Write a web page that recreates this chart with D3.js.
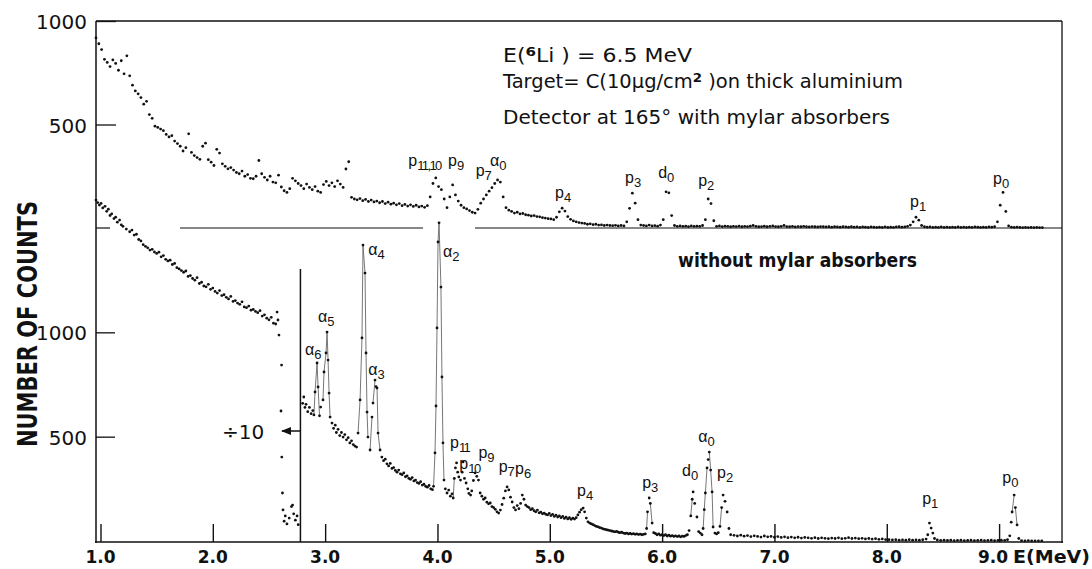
<!DOCTYPE html>
<html><head><meta charset="utf-8">
<script src="https://cdn.jsdelivr.net/npm/d3@7"></script>
<style>body{margin:0;background:#fff}svg{display:block}text{font-family:"DejaVu Sans",sans-serif;fill:#111}</style>
</head><body><svg id="c" width="1092" height="569"></svg>
<script>
// ---------------- DATA ----------------
// Upper spectrum (with mylar absorbers): channel counts on a uniform energy grid
const topStartE = 0.96, topStepE = 0.025;
const topCounts = [
918,890,862,815,800,780,812,795,762,808,
745,832,735,690,662,648,630,598,612,548,
530,492,486,478,470,452,440,446,420,408,
395,372,388,455,365,350,340,332,395,410,
330,318,302,380,362,310,298,286,292,280,
268,262,275,250,258,240,238,250,326,262,
245,232,250,222,218,255,198,180,172,190,
240,228,215,205,190,212,196,185,200,178,
172,210,225,205,218,200,228,212,196,285,
320,148,140,136,142,132,138,128,135,126,
130,122,128,118,125,115,120,112,118,108,
114,106,112,104,110,102,106,100,108,150,
215,242,200,185,140,98,150,208,160,130,
110,98,92,84,76,72,90,120,140,160,
178,195,215,232,222,150,98,86,80,72,
76,68,70,64,62,58,60,55,54,50,
48,45,44,40,52,78,96,82,55,42,
34,30,26,24,22,18,20,16,18,14,
15,12,14,12,11,13,10,12,10,30,
95,168,120,40,14,12,10,14,10,11,
9,14,40,175,170,60,12,8,10,8,
9,7,10,8,9,8,12,40,140,118,
35,8,10,7,9,8,6,8,7,9,
6,8,7,9,12,8,6,7,9,6,
8,10,7,6,8,12,7,6,8,5,
7,6,8,6,5,7,6,5,7,6,
5,6,4,6,5,4,6,5,4,6,
4,5,3,5,4,3,5,4,3,4,
3,5,3,4,3,5,6,4,5,8,
14,30,52,38,12,6,4,5,3,4,
3,5,3,4,3,4,3,5,3,4,
3,4,3,5,4,3,4,3,5,4,
6,30,110,172,80,10,4,3,4,3,
2,3,2,3,2,3,2,2
];

// Lower spectrum (without absorbers), part left of the ÷10 line: [E (MeV), counts]
const bottomLeft = [
[0.960,1634],[0.975,1622],[0.990,1610],[1.005,1618],[1.020,1596],[1.040,1604],[1.055,1580],[1.070,1590],
[1.085,1560],[1.100,1568],[1.120,1545],[1.135,1552],[1.150,1528],[1.170,1538],[1.185,1515],[1.200,1508],
[1.230,1495],[1.260,1482],[1.280,1490],[1.300,1466],[1.320,1470],[1.340,1445],[1.360,1438],[1.380,1420],
[1.400,1412],[1.420,1405],[1.440,1394],[1.460,1398],[1.480,1385],[1.500,1378],[1.520,1384],[1.540,1362],
[1.560,1368],[1.580,1350],[1.600,1342],[1.620,1346],[1.640,1325],[1.660,1330],[1.680,1310],[1.700,1304],
[1.720,1296],[1.740,1288],[1.760,1294],[1.780,1268],[1.800,1272],[1.820,1258],[1.840,1250],[1.860,1262],
[1.880,1234],[1.900,1240],[1.920,1222],[1.940,1218],[1.960,1230],[1.980,1206],[2.000,1212],[2.020,1196],
[2.040,1188],[2.060,1200],[2.080,1176],[2.100,1180],[2.120,1168],[2.140,1160],[2.160,1172],[2.180,1148],
[2.200,1152],[2.220,1140],[2.240,1134],[2.260,1146],[2.280,1122],[2.300,1118],[2.320,1126],[2.340,1106],
[2.360,1110],[2.380,1100],[2.400,1094],[2.420,1104],[2.440,1078],[2.460,1084],[2.480,1068],[2.500,1060],
[2.520,1072],[2.540,1044],[2.560,1040],[2.572,1097],[2.580,1059],[2.589,987],[2.612,843],[2.607,623],
[2.614,402],[2.620,230],[2.625,149],[2.635,95],[2.645,120],[2.660,82],[2.680,110],[2.700,165],
[2.710,172],[2.720,130],[2.735,100],[2.750,120],[2.760,78]
];

// Lower spectrum, part right of the ÷10 line: [E (MeV), counts]
const bottomRight = [
[2.800,660],[2.810,690],[2.820,640],[2.830,655],[2.845,620],[2.860,640],[2.875,610],[2.890,625],[2.900,604],
[2.910,714],[2.928,853],[2.937,738],[2.950,600],[2.960,642],[2.981,676],[2.990,810],[3.008,901],[3.017,1001],
[3.026,867],[3.035,709],[3.044,594],[3.061,565],[3.075,540],[3.090,555],[3.100,520],[3.115,535],[3.130,505],
[3.145,520],[3.160,498],[3.175,510],[3.190,485],[3.205,495],[3.220,470],[3.235,480],[3.250,462],[3.265,455],
[3.280,450],[3.293,517],[3.311,676],[3.328,973],[3.337,1418],[3.355,1284],[3.364,901],[3.373,618],[3.381,498],
[3.400,436],[3.417,594],[3.426,661],[3.444,771],[3.453,740],[3.462,733],[3.471,517],[3.489,436],[3.505,402],
[3.520,385],[3.535,392],[3.550,370],[3.565,360],[3.580,372],[3.595,348],[3.610,352],[3.625,338],[3.640,330],
[3.655,340],[3.670,322],[3.685,318],[3.700,326],[3.715,308],[3.730,312],[3.745,300],[3.760,296],[3.775,304],
[3.790,288],[3.805,292],[3.820,280],[3.835,276],[3.850,284],[3.865,268],[3.880,272],[3.895,262],[3.910,258],
[3.925,266],[3.940,250],[3.955,246],[3.965,262],[3.978,422],[3.987,647],[3.996,1021],[4.005,1433],[4.014,1525],
[4.031,1217],[4.040,786],[4.049,470],[4.058,292],[4.070,250],[4.085,230],[4.100,244],[4.115,215],[4.130,226],
[4.140,206],[4.150,300],[4.160,350],[4.170,374],[4.180,330],[4.190,307],[4.205,292],[4.220,330],[4.228,379],
[4.240,300],[4.255,278],[4.270,250],[4.280,228],[4.295,220],[4.305,240],[4.320,290],[4.335,326],[4.350,310],
[4.365,292],[4.380,230],[4.395,215],[4.410,200],[4.425,206],[4.440,186],[4.455,178],[4.470,182],[4.485,165],
[4.500,160],[4.515,152],[4.530,140],[4.545,134],[4.560,148],[4.575,175],[4.590,205],[4.605,240],[4.620,259],
[4.635,245],[4.650,210],[4.665,187],[4.680,160],[4.695,149],[4.710,170],[4.725,155],[4.740,180],[4.755,220],
[4.770,200],[4.785,172],[4.800,165],[4.815,160],[4.830,150],[4.845,155],[4.860,145],[4.875,140],[4.890,148],
[4.905,135],[4.920,138],[4.935,130],[4.950,134],[4.965,128],[4.980,125],[4.995,132],[5.010,122],[5.025,128],
[5.040,118],[5.055,124],[5.070,115],[5.085,120],[5.100,112],[5.115,118],[5.130,108],[5.145,114],[5.160,106],
[5.175,112],[5.190,104],[5.205,110],[5.220,105],[5.235,112],[5.250,125],[5.265,138],[5.280,150],[5.297,158],
[5.310,140],[5.325,110],[5.340,92],[5.355,86],[5.370,82],[5.385,78],[5.400,74],[5.415,70],[5.430,68],
[5.445,64],[5.460,62],[5.475,58],[5.490,56],[5.505,54],[5.520,52],[5.535,50],[5.550,48],[5.565,46],
[5.580,44],[5.595,46],[5.610,42],[5.625,40],[5.640,42],[5.655,38],[5.670,36],[5.685,38],[5.700,34],
[5.715,36],[5.730,33],[5.745,35],[5.760,32],[5.775,34],[5.790,31],[5.805,33],[5.820,30],[5.835,32],
[5.850,34],[5.862,60],[5.870,140],[5.885,206],[5.895,180],[5.911,86],[5.925,40],[5.940,36],[5.955,30],
[5.970,34],[5.985,28],[6.000,30],[6.015,26],[6.030,30],[6.045,24],[6.060,28],[6.075,23],[6.090,26],
[6.105,22],[6.120,25],[6.135,21],[6.150,24],[6.165,20],[6.180,23],[6.195,22],[6.210,26],[6.225,30],
[6.240,50],[6.255,120],[6.268,200],[6.276,235],[6.290,180],[6.310,115],[6.325,45],[6.340,38],[6.355,30],
[6.365,60],[6.375,150],[6.385,230],[6.400,350],[6.410,390],[6.420,426],[6.432,340],[6.445,235],[6.454,67],
[6.470,38],[6.485,34],[6.500,40],[6.515,70],[6.530,160],[6.543,220],[6.560,190],[6.579,139],[6.595,60],
[6.610,30],[6.640,27],[6.670,24],[6.700,28],[6.730,23],[6.760,26],[6.790,21],[6.820,25],[6.850,22],
[6.880,19],[6.910,24],[6.940,20],[6.970,22],[7.000,18],[7.030,21],[7.060,17],[7.090,20],[7.120,16],
[7.150,19],[7.180,15],[7.210,18],[7.240,14],[7.270,17],[7.300,15],[7.330,13],[7.360,16],[7.390,12],
[7.420,15],[7.450,13],[7.480,11],[7.510,14],[7.540,12],[7.570,15],[7.600,11],[7.630,13],[7.660,16],
[7.690,12],[7.720,14],[7.750,11],[7.780,13],[7.810,10],[7.840,12],[7.870,9],[7.900,11],[7.930,8],
[7.960,10],[7.990,7],[8.020,6],[8.050,5],[8.080,6],[8.110,4],[8.140,5],[8.170,4],[8.200,6],
[8.230,4],[8.260,5],[8.290,4],[8.320,6],[8.350,9],[8.365,30],[8.380,86],[8.395,62],[8.410,38],
[8.425,12],[8.450,5],[8.480,3],[8.510,4],[8.540,3],[8.570,4],[8.600,2],[8.630,3],[8.660,4],
[8.690,2],[8.720,3],[8.750,4],[8.780,2],[8.810,3],[8.840,4],[8.870,2],[8.900,3],[8.930,4],
[8.960,2],[8.990,3],[9.020,4],[9.050,3],[9.075,6],[9.095,25],[9.108,90],[9.116,139],[9.134,220],
[9.145,160],[9.160,77],[9.175,12],[9.200,2],[9.230,1],[9.260,2],[9.290,1],[9.320,1],[9.350,1],[9.380,1]
];

const xTicks = [1,2,3,4,5,6,7,8,9];
const xTickLabels = ["1.0","2.0","3.0","4.0","5.0","6.0","7.0","8.0","9.0"];
const yTicksTop = [500,1000];
const yTicksBottom = [500,1000];

// peak labels: [main, subscript, E, counts] (anchor of the label)
const topLabels = [
["p","11,10",3.740,300],["p","9",4.094,300],["p","7",4.340,251],["α","0",4.468,300],
["p","4",5.047,145],["p","3",5.670,217],["d","0",5.965,242],["p","2",6.321,203],
["p","1",8.207,101],["p","0",8.946,213]
];
const bottomLabels = [
["α","4",3.384,1370],["α","5",2.937,1049],["α","6",2.821,891],["α","3",3.384,795],
["α","2",4.050,1361],["p","11",4.112,446],["p","10",4.195,345],["p","9",4.365,400],
["p","7",4.545,331],["p","6",4.691,321],["p","4",5.243,216],["p","3",5.822,254],
["d","0",6.178,311],["α","0",6.321,474],["p","2",6.489,302],["p","1",8.315,177],["p","0",9.028,278]
];

// ---------------- DRAW ----------------
const svg = d3.select("#c");
const x = d3.scaleLinear().domain([0.96, 9.56]).range([96, 1062]);
const yT = d3.scaleLinear().domain([0, 1000]).range([228, 21]);
const yB = d3.scaleLinear().domain([0, 1500]).range([541, 228]);

const ink = "#111";
// frame
const frame = svg.append("g").attr("stroke", ink).attr("fill","none");
frame.append("line").attr("x1",96).attr("x2",1062).attr("y1",21).attr("y2",21).attr("stroke-width",1.3);
frame.append("line").attr("x1",96).attr("x2",96).attr("y1",21).attr("y2",543).attr("stroke-width",1.5);
frame.append("line").attr("x1",1062).attr("x2",1062).attr("y1",21).attr("y2",543).attr("stroke-width",1.3);
frame.append("line").attr("x1",95).attr("x2",1063).attr("y1",542).attr("y2",542).attr("stroke-width",1.6);
// divider between the two spectra
frame.append("line").attr("x1",180).attr("x2",423).attr("y1",228).attr("y2",228).attr("stroke-width",1.2);
frame.append("line").attr("x1",475).attr("x2",1062).attr("y1",228).attr("y2",228).attr("stroke-width",1.2);
frame.append("line").attr("x1",96).attr("x2",110).attr("y1",228).attr("y2",228).attr("stroke-width",1.2);
// ÷10 boundary
frame.append("line").attr("x1",x(2.78)).attr("x2",x(2.78)).attr("y1",269).attr("y2",542).attr("stroke-width",1.5);

// y axes
const gyT = svg.append("g").attr("transform","translate(96,0)")
  .call(d3.axisRight(yT).tickValues(yTicksTop).tickSize(20).tickFormat(""));
const gyB = svg.append("g").attr("transform","translate(96,0)")
  .call(d3.axisRight(yB).tickValues(yTicksBottom).tickSize(19).tickFormat(""));
[gyT, gyB].forEach(g => { g.select(".domain").remove(); g.selectAll("line").attr("stroke", ink).attr("stroke-width",1.3); });

svg.selectAll(".ylt").data(yTicksTop).join("text")
  .attr("x", 87).attr("y", d => yT(d) + 8).attr("text-anchor","end")
  .attr("font-size", 20).text(d => d);
svg.selectAll(".ylb").data(yTicksBottom).join("text")
  .attr("x", 87).attr("y", d => yB(d) + 8).attr("text-anchor","end")
  .attr("font-size", 20).text(d => d);

// x axis
const gx = svg.append("g").attr("transform","translate(0,542)")
  .call(d3.axisTop(x).tickValues(xTicks).tickSize(18).tickFormat(""));
gx.select(".domain").remove();
gx.selectAll("line").attr("stroke", ink).attr("stroke-width",1.4);
svg.selectAll(".xl").data(xTicks).join("text")
  .attr("x", (d,i) => x(d) + (i===8 ? -6 : 0)).attr("y", 563).attr("text-anchor","middle")
  .attr("font-size", 17).attr("font-weight","bold").text((d,i) => xTickLabels[i]);
svg.append("text").attr("x", 1013).attr("y", 563).attr("font-size",17).attr("font-weight","bold")
  .attr("textLength", 77).attr("lengthAdjust","spacingAndGlyphs").text("E(MeV)");

// y label
svg.append("text").attr("transform","translate(37,324) rotate(-90)").attr("text-anchor","middle")
  .attr("font-size", 27).attr("font-weight","bold").attr("textLength", 246).attr("lengthAdjust","spacingAndGlyphs")
  .text("NUMBER OF COUNTS");

// connecting lines on the steep peaks of lower spectrum
const segs = [];
for (let i = 1; i < bottomRight.length; i++) {
  const a = bottomRight[i-1], b = bottomRight[i];
  if (Math.abs(b[1]-a[1]) >= 80) segs.push([a,b]);
}
svg.append("g").selectAll("line").data(segs).join("line")
  .attr("x1", d => x(d[0][0])).attr("y1", d => yB(d[0][1]))
  .attr("x2", d => x(d[1][0])).attr("y2", d => yB(d[1][1]))
  .attr("stroke", "#666").attr("stroke-width", 0.9);

// dots
const topPts = topCounts.map((c,i) => [topStartE + i*topStepE, c]);
svg.append("g").selectAll("circle").data(topPts).join("circle")
  .attr("cx", d => x(d[0])).attr("cy", d => yT(d[1])).attr("r", 1.4).attr("fill", ink);
svg.append("g").selectAll("circle").data(bottomLeft.concat(bottomRight)).join("circle")
  .attr("cx", d => x(d[0])).attr("cy", d => yB(d[1])).attr("r", 1.4).attr("fill", ink);

// arrow and ÷10
svg.append("defs").append("marker").attr("id","ah").attr("viewBox","0 0 10 10").attr("refX",9).attr("refY",5)
  .attr("markerWidth",7).attr("markerHeight",7).attr("orient","auto")
  .append("path").attr("d","M0,1L10,5L0,9Z").attr("fill",ink);
svg.append("line").attr("x1", x(2.78)).attr("x2", 282).attr("y1", 431).attr("y2", 431)
  .attr("stroke", ink).attr("stroke-width",1.5).attr("marker-end","url(#ah)");
svg.append("text").attr("x", 222).attr("y", 439).attr("font-size", 20).text("÷10");

// peak labels
function peakLabels(data, ys) {
  const t = svg.append("g").selectAll("text").data(data).join("text")
    .attr("x", d => x(d[2])).attr("y", d => ys(d[3]))
    .attr("font-size", 16).style("font-family", "'Liberation Sans', sans-serif");
  t.append("tspan").text(d => d[0]);
  t.append("tspan").attr("dy", 4).attr("font-size", 13)
    .attr("letter-spacing", d => d[1].length > 1 ? -1.6 : 0).text(d => d[1]);
}
peakLabels(topLabels, yT);
peakLabels(bottomLabels, yB);

// annotations
const ann = svg.append("g").attr("font-size", 19);
const l1 = ann.append("text").attr("x", 503).attr("y", 62)
  .attr("textLength", 189).attr("lengthAdjust","spacingAndGlyphs");
l1.append("tspan").text("E(");
l1.append("tspan").attr("dy", -6).attr("font-size", 13).attr("font-weight","bold").text("6");
l1.append("tspan").attr("dy", 6).text("Li )  =  6.5 MeV");
const l2 = ann.append("text").attr("x", 503).attr("y", 88)
  .attr("textLength", 400).attr("lengthAdjust","spacingAndGlyphs");
l2.append("tspan").text("Target= C(10");
l2.append("tspan").text("μ");
l2.append("tspan").text("g/cm");
l2.append("tspan").attr("dy", -6).attr("font-size", 13).attr("font-weight","bold").text("2");
l2.append("tspan").attr("dy", 6).text(" )on thick aluminium");
ann.append("text").attr("x", 503).attr("y", 124).attr("textLength", 387).attr("lengthAdjust","spacingAndGlyphs")
  .text("Detector at 165° with mylar absorbers");
svg.append("text").attr("x", 678).attr("y", 267).attr("font-size", 19).attr("font-weight","bold")
  .attr("textLength", 239).attr("lengthAdjust","spacingAndGlyphs").text("without mylar absorbers");
</script>
</body></html>
